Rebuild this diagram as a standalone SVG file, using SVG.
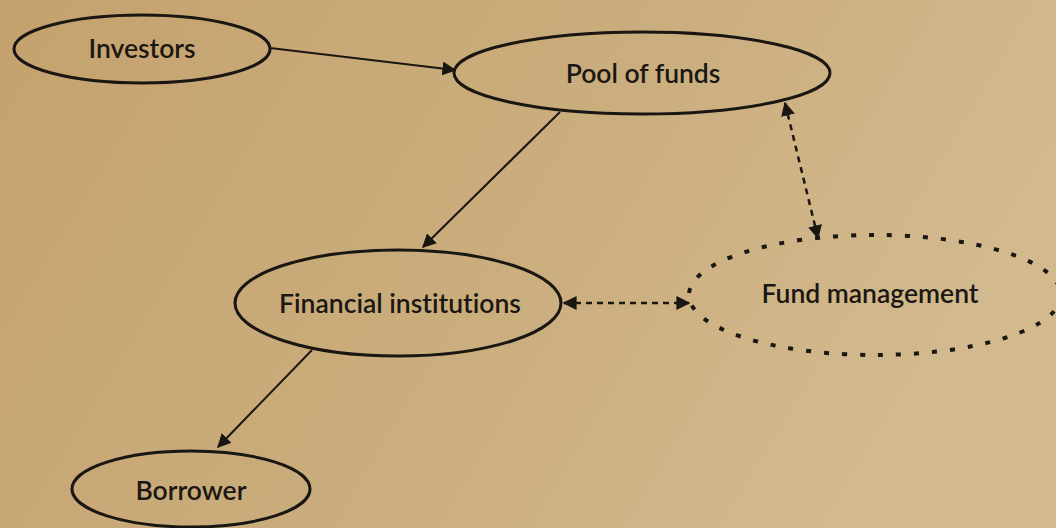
<svg xmlns="http://www.w3.org/2000/svg" width="1056" height="528" viewBox="0 0 1056 528">
  <defs>
    <linearGradient id="paper" x1="0" y1="0" x2="1" y2="0.3">
      <stop offset="0" stop-color="#c4a26e"/>
      <stop offset="0.6" stop-color="#cbae7e"/>
      <stop offset="1" stop-color="#d2b98e"/>
    </linearGradient>
    <marker id="headBig" viewBox="0 0 10 10" refX="9" refY="5" markerWidth="14" markerHeight="14" markerUnits="userSpaceOnUse" orient="auto-start-reverse">
      <path d="M0,0 L10,5 L0,10 z" fill="#1a1612"/>
    </marker>
  </defs>
  <style>
    .node { fill: none; stroke: #1a1612; stroke-width: 3; }
    .dotted { fill: none; stroke: #1a1612; stroke-width: 4; stroke-dasharray: 5 13; stroke-linecap: butt; }
    .label { font-family: Lato, "Open Sans", "Liberation Sans", sans-serif; font-weight: 600; font-size: 26.5px; fill: #1b1713; text-anchor: middle; font-variant-ligatures: none; }
    .link { stroke: #1a1612; stroke-width: 2; fill: none; }
    .dash { stroke: #1a1612; stroke-width: 2.5; fill: none; stroke-dasharray: 6 5; }
  </style>
  <rect width="1056" height="528" fill="url(#paper)"/>

  <!-- connectors: solid flow arrows and dashed two-way links -->
  <g id="connectors">
    <line class="link" x1="270" y1="48" x2="455" y2="70" marker-end="url(#headBig)"/>
    <line class="link" x1="560" y1="112" x2="423" y2="247" marker-end="url(#headBig)"/>
    <line class="link" x1="312" y1="350" x2="218" y2="447" marker-end="url(#headBig)"/>
    <line class="dash" x1="564" y1="303" x2="689" y2="303" marker-start="url(#headBig)" marker-end="url(#headBig)"/>
    <line class="dash" x1="785" y1="103" x2="818" y2="238" marker-start="url(#headBig)" marker-end="url(#headBig)"/>
  </g>

  <g id="investors">
    <ellipse class="node" cx="142" cy="49" rx="128" ry="34"/>
    <text class="label" x="142" y="58">Investors</text>
  </g>
  <g id="pool-of-funds">
    <ellipse class="node" cx="642" cy="73" rx="188" ry="41"/>
    <text class="label" x="643" y="83">Pool of funds</text>
  </g>
  <g id="financial-institutions">
    <ellipse class="node" cx="398" cy="303" rx="163" ry="53"/>
    <text class="label" x="400" y="313">Financial institutions</text>
  </g>
  <g id="fund-management">
    <ellipse class="dotted" cx="875" cy="295" rx="186" ry="60"/>
    <text class="label" x="870" y="303">Fund management</text>
  </g>
  <g id="borrower">
    <ellipse class="node" cx="191" cy="489" rx="119" ry="38"/>
    <text class="label" x="191" y="500">Borrower</text>
  </g>
</svg>
